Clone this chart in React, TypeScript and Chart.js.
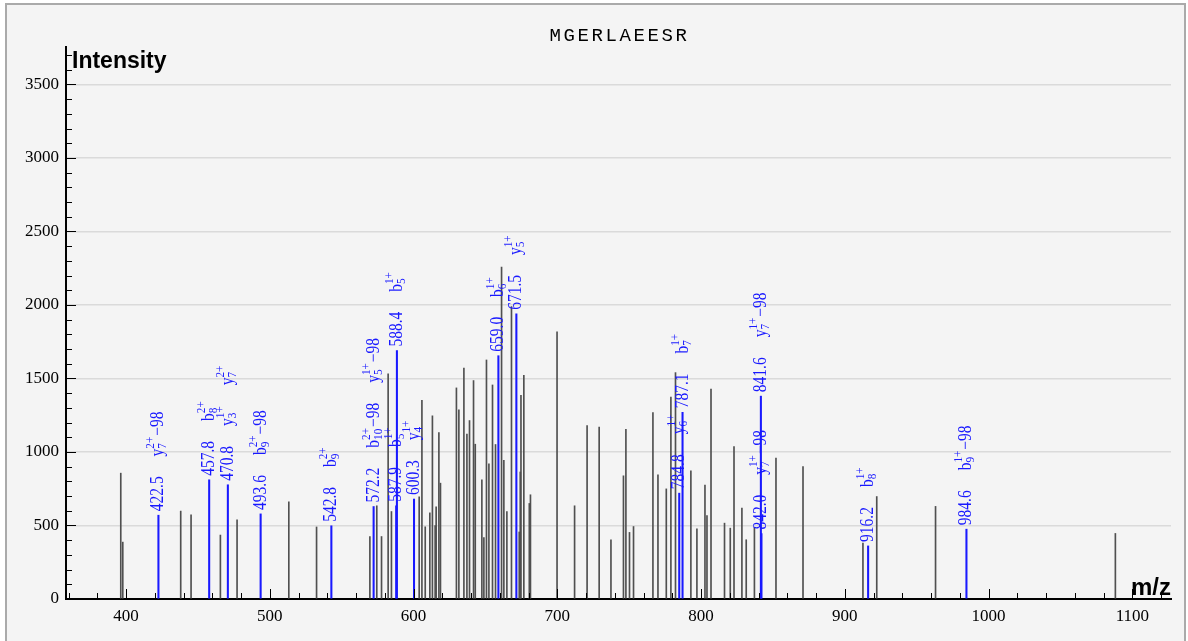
import React, { useEffect, useRef } from "react";
import { Chart, registerables } from "chart.js";

Chart.register(...registerables);

// ---------- text ----------
const TITLE = "MGERLAEESR";
const Y_TITLE = "Intensity";
const X_TITLE = "m/z";

// ---------- axes ----------
const X_TICKS = [400, 500, 600, 700, 800, 900, 1000, 1100];
const Y_TICKS = [0, 500, 1000, 1500, 2000, 2500, 3000, 3500];
const X_MIN = 358.2;
const X_MAX = 1126.9;
const Y_MAX = 3755;
const X_MINOR = 20;
const Y_MINOR = 100;

// ---------- unmatched peaks ----------
const PEAK_MZ = [
  396.3, 397.7, 438.0, 445.2, 465.6, 477.2, 513.2, 532.5, 569.6, 574.4,
  577.7, 582.3, 584.6, 603.9, 605.8, 608.1, 611.3, 613.1, 615.0, 615.7,
  617.6, 618.7, 629.8, 631.5, 635.0, 637.1, 638.9, 641.7, 642.9, 647.5,
  648.9, 650.7, 652.4, 654.9, 657.0, 661.2, 662.8, 664.9, 668.1, 673.5,
  674.2, 674.7, 676.7, 680.5, 681.3, 699.8, 712.0, 720.7, 729.1, 737.3,
  746.0, 747.7, 750.2, 753.0, 766.5, 770.0, 775.8, 779.0, 782.2, 792.9,
  797.1, 802.7, 804.1, 806.9, 816.3, 820.3, 822.9, 828.4, 831.4, 837.1,
  852.1, 870.9, 912.6, 922.2, 963.1, 1088.2,
];
const PEAK_INTENSITY = [
  856, 387, 598, 573, 435, 539, 661, 490, 425, 634,
  425, 1531, 595, 695, 1352, 491, 586, 1246, 500, 627,
  1132, 788, 1436, 1287, 1570, 1122, 1214, 1486, 1053, 811,
  418, 1626, 919, 1456, 1051, 2258, 944, 595, 1990, 456,
  864, 1385, 1521, 650, 709, 1817, 634, 1180, 1169, 403,
  838, 1155, 453, 493, 1268, 845, 749, 1373, 1540, 872,
  477, 775, 567, 1428, 516, 482, 1037, 618, 403, 487,
  958, 901, 381, 697, 630, 446,
];

// ---------- matched (annotated) peaks ----------
const ION_MZ = [
  422.5, 457.8, 470.8, 493.6, 542.8, 572.2, 587.9, 588.4, 600.3,
  659.0, 671.5, 784.8, 787.1, 841.6, 842.0, 916.2, 984.6,
];
const ION_INTENSITY = [
  570, 811, 777, 579, 498, 629, 634, 1690, 680,
  1655, 1940, 720, 1270, 1380, 445, 361, 475,
];
// each label: [ion letter, subscript, superscript, suffix]
const ION_LABELS: string[][][] = [
  [["y", "7", "2+", "\u221298"]],
  [["b", "8", "2+", ""]],
  [["y", "3", "1+", ""], ["y", "7", "2+", ""]],
  [["b", "9", "2+", "\u221298"]],
  [["b", "9", "2+", ""]],
  [["b", "10", "2+", "\u221298"], ["y", "5", "1+", "\u221298"]],
  [["b", "5", "1+", ""]],
  [["b", "5", "1+", ""]],
  [["y", "4", "1+", ""]],
  [["b", "6", "1+", ""]],
  [["y", "5", "1+", ""]],
  [["y", "6", "1+", ""]],
  [["b", "7", "1+", ""]],
  [["y", "7", "1+", "\u221298"]],
  [["y", "7", "1+", "\u221298"]],
  [["b", "8", "1+", ""]],
  [["b", "9", "1+", "\u221298"]],
];

const BLUE = "rgb(25,25,255)";
const GRAY = "#505050";
const SERIF = "'Liberation Serif', 'Times New Roman', serif";
const SANS = "'Liberation Sans', Arial, sans-serif";
const MONO = "'Liberation Mono', 'Courier New', monospace";

const SX = 0.86; // horizontal compression of annotation glyphs
const MAIN_FONT = `18px ${SERIF}`;
const SMALL_FONT = `13px ${SERIF}`;
const BASE_OFF = 5;

function drawRun(
  ctx: CanvasRenderingContext2D,
  x: number,
  yTop: number,
  dist: number,
  text: string,
  font: string,
  shift: number
): number {
  ctx.save();
  ctx.translate(x, yTop - dist);
  ctx.rotate(-Math.PI / 2);
  ctx.scale(SX, 1);
  ctx.font = font;
  ctx.textAlign = "left";
  ctx.textBaseline = "alphabetic";
  ctx.fillText(text, 0, BASE_OFF + shift);
  const w = ctx.measureText(text).width * SX;
  ctx.restore();
  return w;
}

const decorPlugin = {
  id: "decor",
  afterDatasetsDraw(chart: any) {
    const { ctx, chartArea } = chart;
    const xs = chart.scales.x;
    const ys = chart.scales.y;

    // inward tick marks
    ctx.save();
    ctx.strokeStyle = "#000";
    ctx.lineWidth = 1;
    ctx.beginPath();
    const xStart = Math.ceil(X_MIN / X_MINOR) * X_MINOR;
    for (let v = xStart; v <= X_MAX; v += X_MINOR) {
      const px = Math.round(xs.getPixelForValue(v)) + 0.5;
      const len = v % 100 === 0 ? 10 : 6;
      ctx.moveTo(px, chartArea.bottom);
      ctx.lineTo(px, chartArea.bottom - len);
    }
    for (let v = 0; v <= Y_MAX; v += Y_MINOR) {
      const py = Math.round(ys.getPixelForValue(v)) + 0.5;
      const len = v % 500 === 0 ? 10 : 6;
      ctx.moveTo(chartArea.left, py);
      ctx.lineTo(chartArea.left + len, py);
    }
    ctx.stroke();
    ctx.restore();

    // annotations
    ctx.save();
    ctx.fillStyle = BLUE;
    ION_MZ.forEach((mz, i) => {
      const px = xs.getPixelForValue(mz);
      const py = ys.getPixelForValue(ION_INTENSITY[i]);
      let dist = 4;
      dist += drawRun(ctx, px, py, dist, mz.toFixed(1), MAIN_FONT, 0);
      ION_LABELS[i].forEach((lab) => {
        dist += 20;
        const [base, sub, sup, suffix] = lab;
        dist += drawRun(ctx, px, py, dist, base, MAIN_FONT, 0);
        const ws = drawRun(ctx, px, py, dist, sub, SMALL_FONT, 3);
        const wp = drawRun(ctx, px, py, dist, sup, SMALL_FONT, -9);
        dist += Math.max(ws, wp) + 1;
        if (suffix) dist += drawRun(ctx, px, py, dist, suffix, MAIN_FONT, 0);
      });
    });
    ctx.restore();
  },
  afterDraw(chart: any) {
    const { ctx, chartArea } = chart;
    ctx.save();
    ctx.fillStyle = "#000";
    ctx.font = `19px ${MONO}`;
    ctx.textAlign = "center";
    ctx.textBaseline = "alphabetic";
    try {
      (ctx as any).letterSpacing = "2.6px";
    } catch (e) {}
    ctx.fillText(TITLE, 619.5, 41);
    try {
      (ctx as any).letterSpacing = "0px";
    } catch (e) {}
    ctx.font = `bold 23px ${SANS}`;
    ctx.textAlign = "left";
    ctx.fillText(Y_TITLE, chartArea.left + 6, 68);
    ctx.font = `bold 24px ${SANS}`;
    ctx.textAlign = "right";
    ctx.fillText(X_TITLE, chartArea.right, 595);
    ctx.restore();
  },
};

export default function App() {
  const ref = useRef<HTMLCanvasElement>(null);
  useEffect(() => {
    const canvas = ref.current;
    if (!canvas) return;
    const chart = new Chart(canvas, {
      type: "bar",
      data: {
        datasets: [
          {
            label: "matched",
            data: ION_MZ.map((m, i) => ({ x: m, y: ION_INTENSITY[i] })),
            backgroundColor: BLUE,
            borderWidth: 0,
            barThickness: 1.4,
            grouped: false,
          } as any,
          {
            label: "peaks",
            data: PEAK_MZ.map((m, i) => ({ x: m, y: PEAK_INTENSITY[i] })),
            backgroundColor: GRAY,
            borderWidth: 0,
            barThickness: 1,
            grouped: false,
          } as any,
        ],
      },
      options: {
        animation: false,
        responsive: false,
        devicePixelRatio: 1,
        layout: { padding: { left: 0, top: 47, right: 17, bottom: 0 } },
        plugins: {
          legend: { display: false },
          title: { display: false },
          tooltip: { enabled: false },
        },
        scales: {
          x: {
            type: "linear",
            min: X_MIN,
            max: X_MAX,
            offset: false,
            afterBuildTicks: (s: any) => {
              s.ticks = X_TICKS.map((v) => ({ value: v }));
            },
            afterFit: (s: any) => {
              s.height = 42;
            },
            grid: { display: false, drawTicks: false },
            border: { display: true, color: "#000", width: 2 },
            ticks: {
              font: { family: SERIF, size: 17 },
              color: "#000",
              padding: 7,
              maxRotation: 0,
              autoSkip: false,
              callback: (v: any) => String(v),
            },
          },
          y: {
            type: "linear",
            min: 0,
            max: Y_MAX,
            afterBuildTicks: (s: any) => {
              s.ticks = Y_TICKS.map((v) => ({ value: v }));
            },
            afterFit: (s: any) => {
              s.width = 66;
            },
            grid: {
              display: true,
              drawTicks: false,
              color: (c: any) => (c.tick && c.tick.value === 0 ? "rgba(0,0,0,0)" : "#dadada"),
              lineWidth: 1.5,
            },
            border: { display: true, color: "#000", width: 2 },
            ticks: {
              font: { family: SERIF, size: 17 },
              color: "#000",
              padding: 7,
              callback: (v: any) => String(v),
            },
          },
        } as any,
      },
      plugins: [decorPlugin],
    } as any);
    return () => chart.destroy();
  }, []);

  return (
    <div
      style={{
        position: "fixed",
        left: 0,
        top: 0,
        width: 1188,
        height: 641,
        overflow: "hidden",
        background: "#ffffff",
      }}
    >
      <div
        style={{
          position: "absolute",
          left: 5,
          top: 3,
          width: 1181,
          height: 700,
          boxSizing: "border-box",
          border: "2px solid #aaaaaa",
          background: "#f4f4f4",
        }}
      />
      <canvas
        ref={ref}
        width={1188}
        height={641}
        style={{ position: "absolute", left: 0, top: 0, width: 1188, height: 641 }}
      />
    </div>
  );
}
